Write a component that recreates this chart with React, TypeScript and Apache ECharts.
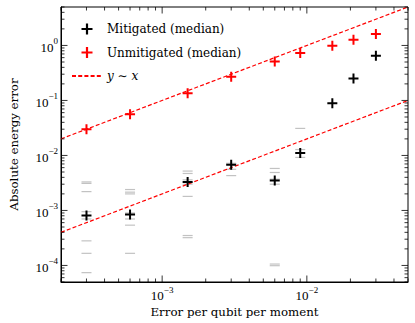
import React, { useEffect, useRef } from "react";
import * as echarts from "echarts";

const xValues = [3e-4, 6e-4, 1.5e-3, 3e-3, 6e-3, 9e-3, 1.5e-2, 2.1e-2, 3e-2];
const mitigatedMedian = [8.1e-4, 8.4e-4, 3.3e-3, 6.8e-3, 3.5e-3, 1.11e-2, 0.0885, 0.25, 0.65];
const unmitigatedMedian = [0.030, 0.056, 0.135, 0.27, 0.51, 0.73, 0.99, 1.27, 1.61];

// individual (gray) mitigated samples: [x, y]
const samples: [number, number][] = [
  [3e-4, 3.3e-3], [3e-4, 3.1e-3], [3e-4, 2.2e-3], [3e-4, 9.5e-4], [3e-4, 7e-4], [3e-4, 2.8e-4], [3e-4, 1.66e-4], [3e-4, 7.4e-5],
  [6e-4, 2.4e-3], [6e-4, 2.15e-3], [6e-4, 2.0e-3], [6e-4, 9e-4], [6e-4, 7e-4], [6e-4, 5.4e-4], [6e-4, 1.66e-4],
  [1.5e-3, 5.2e-3], [1.5e-3, 4.7e-3], [1.5e-3, 3.6e-3], [1.5e-3, 3.0e-3], [1.5e-3, 1.8e-3], [1.5e-3, 3.5e-4], [1.5e-3, 3.2e-4],
  [3e-3, 7.2e-3], [3e-3, 5.6e-3], [3e-3, 4.3e-3],
  [6e-3, 5.8e-3], [6e-3, 4.9e-3], [6e-3, 3.7e-3], [6e-3, 3.0e-3], [6e-3, 1.06e-4], [6e-3, 9.9e-5],
  [9e-3, 0.031], [9e-3, 0.0128], [9e-3, 0.0092],
];

// reference lines y = c * x
const xRange = [2e-4, 5e-2];
const yRange = [5e-5, 5];
const lineCoefficients = [100, 2];

const FONT = "DejaVu Serif";
const NUM_FONT = "Liberation Serif";
const PLUS = "path://M4,0H6V4H10V6H6V10H4V6H0V4H4Z";

function buildTicks() {
  const ticks: number[][] = [];
  const add = (lo: number, hi: number, axis: number) => {
    for (let e = Math.floor(Math.log10(lo)); e <= Math.ceil(Math.log10(hi)); e++) {
      for (let k = 1; k <= 9; k++) {
        const v = k * Math.pow(10, e);
        if (v >= lo * 0.999 && v <= hi * 1.001) {
          ticks.push(axis === 0 ? [v, 1, k === 1 ? 1 : 0, 0] : [1e-3, v, k === 1 ? 1 : 0, 1]);
        }
      }
    }
  };
  add(xRange[0], xRange[1], 0);
  add(yRange[0], yRange[1], 1);
  return ticks;
}

function labelFmt(value: number) {
  const l = Math.log10(value);
  const e = Math.round(l);
  if (Math.abs(l - e) > 1e-6) return "";
  const s = e < 0 ? "\u2212" + Math.abs(e) : String(e);
  return `{b|10}{s|${s}}`;
}

const labelRich = {
  b: { fontFamily: NUM_FONT, fontSize: 13, color: "#000", verticalAlign: "bottom", lineHeight: 17 },
  s: { fontFamily: NUM_FONT, fontSize: 9, color: "#000", verticalAlign: "top", lineHeight: 9 },
};

export default function App() {
  const ref = useRef<HTMLDivElement>(null);
  useEffect(() => {
    if (!ref.current) return;
    const chart = echarts.init(ref.current, undefined, { renderer: "svg" });
    const option: any = {
      animation: false,
      backgroundColor: "#fff",
      grid: { left: 52, right: 7, top: 7, bottom: 39, show: true, borderColor: "#000", borderWidth: 1, backgroundColor: "transparent" },
      xAxis: {
        type: "log",
        logBase: 10,
        min: xRange[0],
        max: xRange[1],
        name: "Error per qubit per moment",
        nameLocation: "middle",
        nameGap: 24,
        nameMoveOverlap: false,
        nameTextStyle: { fontFamily: FONT, fontSize: 11.8, color: "#000" },
        axisLine: { show: true, lineStyle: { color: "#000", width: 1 } },
        axisTick: { show: false },
        splitLine: { show: false },
        axisLabel: { formatter: labelFmt, rich: labelRich, margin: 3, showMinLabel: false, showMaxLabel: false },
      },
      yAxis: {
        type: "log",
        logBase: 10,
        min: yRange[0],
        max: yRange[1],
        name: "Absolute energy error",
        nameLocation: "middle",
        nameGap: 41,
        nameMoveOverlap: false,
        nameTextStyle: { fontFamily: FONT, fontSize: 11.8, color: "#000" },
        axisLine: { show: true, lineStyle: { color: "#000", width: 1 } },
        axisTick: { show: false },
        splitLine: { show: false },
        axisLabel: { formatter: labelFmt, rich: labelRich, margin: 3, showMinLabel: false, showMaxLabel: false },
      },
      legend: {
        orient: "vertical",
        left: 66,
        top: 17,
        itemWidth: 30,
        itemHeight: 11,
        itemGap: 9.5,
        data: [
          "Mitigated (median)",
          "Unmitigated (median)",
          { name: "y ~ x", itemStyle: { opacity: 0 } },
        ],
        textStyle: {
          fontFamily: FONT,
          fontSize: 12,
          color: "#000",
          lineHeight: 14,
          rich: { i: { fontFamily: FONT, fontSize: 12, fontStyle: "italic", color: "#000", lineHeight: 14 } },
        },
        formatter: (name: string) => (name === "y ~ x" ? "{i|y} \u223c {i|x}" : name),
      },
      series: [
        {
          type: "custom",
          silent: true,
          coordinateSystem: "cartesian2d",
          encode: { x: 0, y: 1 },
          data: buildTicks(),
          z: 10,
          renderItem: (params: any, api: any) => {
            const v = api.value(0);
            const w = api.value(1);
            const major = api.value(2);
            const axis = api.value(3);
            const cs = params.coordSys;
            const len = major ? 6.5 : 3.5;
            const p = api.coord([v, w]);
            const st = { stroke: "#000", lineWidth: 0.8 };
            if (axis === 0) {
              const x = p[0];
              return {
                type: "group",
                children: [
                  { type: "line", shape: { x1: x, y1: cs.y + cs.height, x2: x, y2: cs.y + cs.height - len }, style: st },
                  { type: "line", shape: { x1: x, y1: cs.y, x2: x, y2: cs.y + len }, style: st },
                ],
              };
            }
            const y = p[1];
            return {
              type: "group",
              children: [
                { type: "line", shape: { x1: cs.x, y1: y, x2: cs.x + len, y2: y }, style: st },
                { type: "line", shape: { x1: cs.x + cs.width, y1: y, x2: cs.x + cs.width - len, y2: y }, style: st },
              ],
            };
          },
        },
        {
          type: "scatter",
          data: samples,
          symbol: "rect",
          symbolSize: [10, 1.2],
          itemStyle: { color: "#999999", opacity: 0.6 },
          silent: true,
          z: 1,
        },
        ...lineCoefficients.map((c) => ({
          name: "y ~ x",
          type: "line",
          data: xRange.map((x) => [x, c * x]),
          symbol: "none",
          lineStyle: { color: "#ff0000", width: 1.2, type: [4, 2.2] },
          itemStyle: { color: "#ff0000" },
          z: 2,
        })),
        {
          name: "Mitigated (median)",
          type: "scatter",
          data: xValues.map((x, i) => [x, mitigatedMedian[i]]),
          symbol: PLUS,
          symbolSize: 10,
          symbolKeepAspect: true,
          itemStyle: { color: "#000", opacity: 1 },
          z: 3,
        },
        {
          name: "Unmitigated (median)",
          type: "scatter",
          data: xValues.map((x, i) => [x, unmitigatedMedian[i]]),
          symbol: PLUS,
          symbolSize: 10,
          symbolKeepAspect: true,
          itemStyle: { color: "#ff0000", opacity: 1 },
          z: 3,
        },
      ],
    };
    chart.setOption(option);
    return () => chart.dispose();
  }, []);
  return <div ref={ref} style={{ position: "absolute", left: 0, top: 0, width: 415, height: 323 }} />;
}
